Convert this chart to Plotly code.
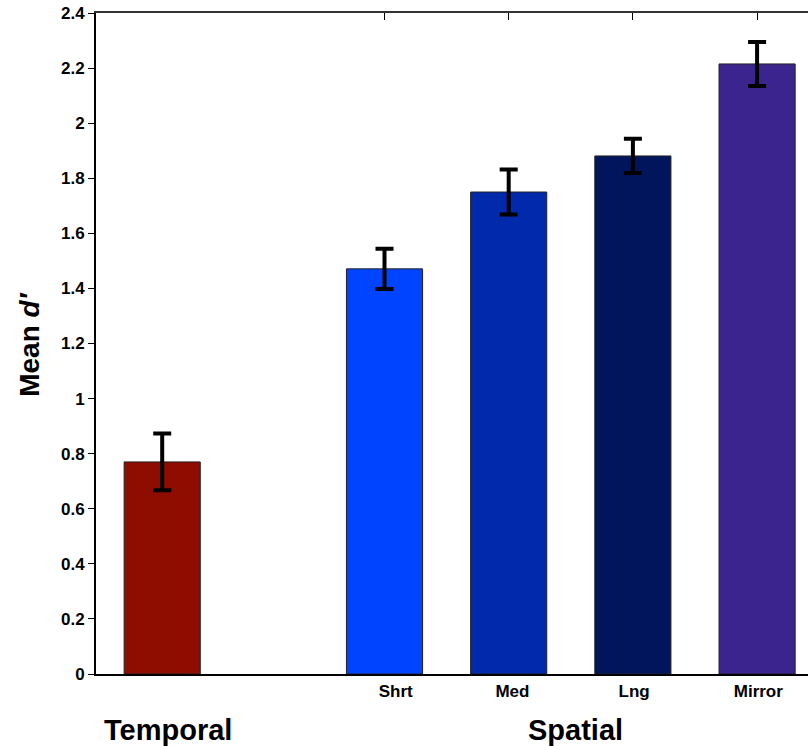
import plotly.graph_objects as go

# ---- data ----
categories = ["Temporal", "Shrt", "Med", "Lng", "Mirror"]
mean_dprime = [0.770, 1.471, 1.750, 1.881, 2.215]
sem = [0.103, 0.073, 0.082, 0.062, 0.080]
bar_colors = ["#8E0C00", "#0044FF", "#0029AB", "#00155C", "#3C248F"]
group_labels = ["Temporal", "Spatial"]
y_ticks = [0, 0.2, 0.4, 0.6, 0.8, 1, 1.2, 1.4, 1.6, 1.8, 2, 2.2, 2.4]

# ---- layout positions (slot units) ----
xpos = [-0.79, 1, 2, 3, 4]
label_pos = [1.09, 2.03, 3.01, 4.01]
group_x = [-0.74, 2.54]

FONT = "Liberation Sans, Arial, Helvetica, sans-serif"

fig = go.Figure()
fig.add_trace(go.Bar(
    x=xpos, y=mean_dprime, width=0.613,
    marker=dict(color=bar_colors, line=dict(color="#222222", width=1)),
    error_y=dict(type="data", array=sem, visible=True, color="black",
                 thickness=4, width=9),
    showlegend=False, hoverinfo="skip",
))
# invisible trace so the top axis renders
fig.add_trace(go.Scatter(x=[xpos[1]], y=[0], xaxis="x2", mode="markers",
                         marker=dict(opacity=0), showlegend=False, hoverinfo="skip"))

fig.update_layout(
    width=808, height=746,
    margin=dict(l=96, r=0, t=13, b=72),
    paper_bgcolor="white", plot_bgcolor="white",
    xaxis=dict(range=[-1.323, 4.41], showgrid=False, zeroline=False,
               showline=True, linecolor="black", linewidth=2,
               ticks="", tickvals=label_pos, ticktext=categories[1:],
               tickfont=dict(family=FONT, size=17, color="black", weight="bold"),
               ticklabelstandoff=1),
    xaxis2=dict(range=[-1.323, 4.41], overlaying="x", side="top",
                matches="x", showgrid=False, zeroline=False,
                showline=True, linecolor="#333333", linewidth=2,
                ticks="inside", ticklen=7, tickwidth=1, tickcolor="black",
                tickvals=xpos[1:], showticklabels=False),
    yaxis=dict(range=[0, 2.4], tickvals=y_ticks,
               ticktext=[("%g" % v) for v in y_ticks],
               showgrid=False, zeroline=False, showline=True,
               linecolor="black", linewidth=2,
               ticks="outside", ticklen=6, tickwidth=1, tickcolor="black",
               tickfont=dict(family=FONT, size=17, color="black", weight="bold")),
)

fig.add_annotation(text="Mean <i>d′</i>", xref="paper", yref="paper",
                   x=-66/712, y=0.498, textangle=-90, showarrow=False,
                   xanchor="center", yanchor="middle",
                   font=dict(family=FONT, size=28, color="black", weight="bold"))
for gx, gl in zip(group_x, group_labels):
    fig.add_annotation(text=gl, x=gx, xref="x", yref="paper", y=-56/661,
                       showarrow=False, xanchor="center", yanchor="middle",
                       font=dict(family=FONT, size=29, color="black", weight="bold"))

fig.write_html("out.html")
